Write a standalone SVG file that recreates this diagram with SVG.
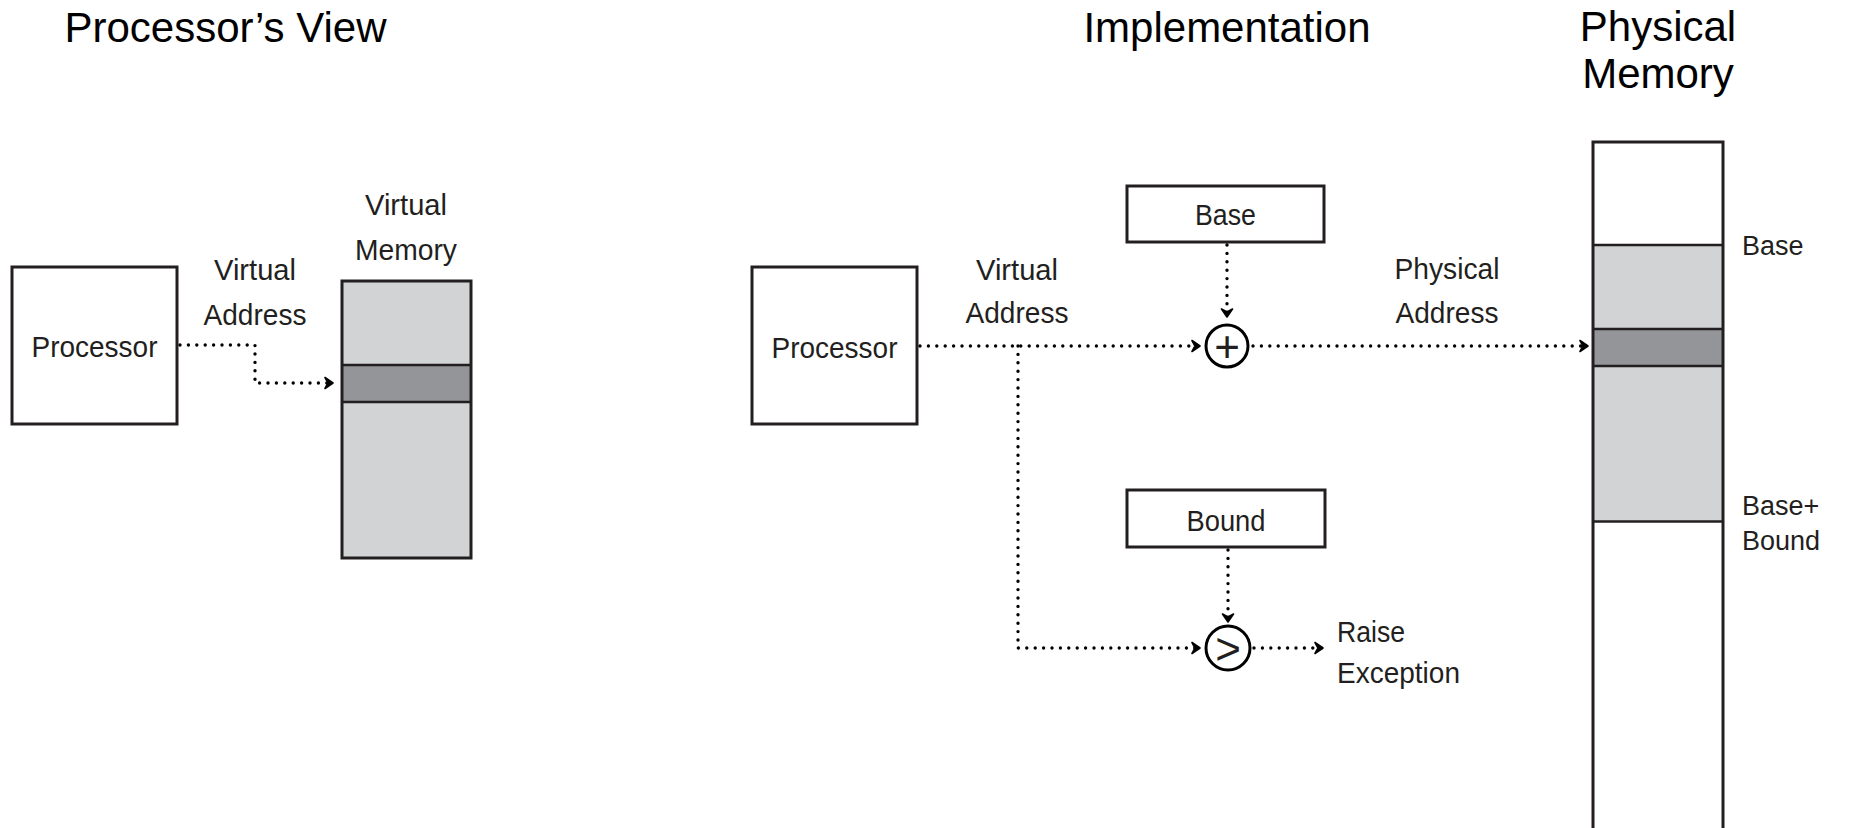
<svg xmlns="http://www.w3.org/2000/svg" width="1849" height="828" viewBox="0 0 1849 828">
<style>
.title{font-family:"Liberation Sans",Arial,sans-serif;font-size:42px;fill:#000;text-anchor:middle}
.lbl{font-family:"Liberation Sans",Arial,sans-serif;font-size:30px;fill:#231f20;text-anchor:middle}
.rl{font-family:"Liberation Sans",Arial,sans-serif;font-size:27px;fill:#231f20}
.sym{font-family:"Liberation Sans",Arial,sans-serif;font-size:44px;fill:#231f20;text-anchor:middle}
.box{fill:#fff;stroke:#231f20;stroke-width:3}
.mem{stroke:#231f20;stroke-width:2.5}
.light{fill:#d1d3d4}
.dark{fill:#939598}
.dot{fill:none;stroke:#000;stroke-width:3.4;stroke-linecap:round;stroke-dasharray:0 8.4}
.circ{fill:#fff;stroke:#000;stroke-width:3}
</style>
<defs>
<marker id="arr" markerUnits="userSpaceOnUse" markerWidth="13" markerHeight="14" viewBox="-11 -7 13 14" refX="0" refY="0" orient="auto">
<path d="M-8,-5.5 L0,0 L-8,5.5 L-5,0 Z" fill="#000" stroke="#000" stroke-width="1.6" stroke-linejoin="round"/>
</marker>
</defs>
<rect width="1849" height="828" fill="#fff"/>

<g id="titles">
<text class="title" x="225.5" y="42">Processor’s View</text>
<text class="title" x="1227" y="42">Implementation</text>
<text class="title" x="1658" y="41">Physical</text>
<text class="title" x="1658" y="88">Memory</text>
</g>

<g id="processor1">
<rect class="box" x="12" y="267" width="165" height="157"/>
<text class="lbl" x="94.5" y="357" textLength="126" lengthAdjust="spacingAndGlyphs">Processor</text>
</g>

<g id="virtual-memory">
<rect class="light" x="342" y="281" width="129" height="277"/>
<rect class="dark" x="342" y="365" width="129" height="37"/>
<line class="mem" x1="342" y1="365" x2="471" y2="365"/>
<line class="mem" x1="342" y1="402" x2="471" y2="402"/>
<rect x="342" y="281" width="129" height="277" fill="none" stroke="#231f20" stroke-width="3"/>
<text class="lbl" x="406" y="215" textLength="82" lengthAdjust="spacingAndGlyphs">Virtual</text>
<text class="lbl" x="406" y="260" textLength="102" lengthAdjust="spacingAndGlyphs">Memory</text>
</g>

<g id="processor2">
<rect class="box" x="752" y="267" width="165" height="157"/>
<text class="lbl" x="834.5" y="358" textLength="126" lengthAdjust="spacingAndGlyphs">Processor</text>
</g>

<g id="base-reg">
<rect class="box" x="1127" y="186" width="197" height="56"/>
<text class="lbl" x="1225.5" y="225" textLength="61" lengthAdjust="spacingAndGlyphs">Base</text>
</g>

<g id="bound-reg">
<rect class="box" x="1127" y="490" width="198" height="57"/>
<text class="lbl" x="1226" y="531" textLength="79" lengthAdjust="spacingAndGlyphs">Bound</text>
</g>

<g id="adder">
<circle class="circ" cx="1227" cy="346" r="21"/>
<text class="sym" x="1227" y="361.5">+</text>
</g>

<g id="comparator">
<circle class="circ" cx="1228" cy="648" r="22"/>
<text class="sym" x="1228" y="663.5">&gt;</text>
</g>

<g id="physical-memory">
<rect x="1593" y="142" width="130" height="700" fill="#fff"/>
<rect class="light" x="1593" y="245" width="130" height="276.5"/>
<rect class="dark" x="1593" y="329" width="130" height="37"/>
<line class="mem" x1="1593" y1="245" x2="1723" y2="245"/>
<line class="mem" x1="1593" y1="329" x2="1723" y2="329"/>
<line class="mem" x1="1593" y1="366" x2="1723" y2="366"/>
<line class="mem" x1="1593" y1="521.5" x2="1723" y2="521.5"/>
<rect x="1593" y="142" width="130" height="700" fill="none" stroke="#231f20" stroke-width="3"/>
<text class="rl" x="1742" y="255">Base</text>
<text class="rl" x="1742" y="515">Base+</text>
<text class="rl" x="1742" y="550">Bound</text>
</g>

<g id="labels">
<text class="lbl" x="255" y="280" textLength="82" lengthAdjust="spacingAndGlyphs">Virtual</text>
<text class="lbl" x="255" y="325" textLength="103" lengthAdjust="spacingAndGlyphs">Address</text>
<text class="lbl" x="1017" y="280" textLength="82" lengthAdjust="spacingAndGlyphs">Virtual</text>
<text class="lbl" x="1017" y="323" textLength="103" lengthAdjust="spacingAndGlyphs">Address</text>
<text class="lbl" x="1447" y="279" textLength="105" lengthAdjust="spacingAndGlyphs">Physical</text>
<text class="lbl" x="1447" y="323" textLength="103" lengthAdjust="spacingAndGlyphs">Address</text>
<text class="lbl" x="1337" y="642" style="text-anchor:start" textLength="68" lengthAdjust="spacingAndGlyphs">Raise</text>
<text class="lbl" x="1337" y="683" style="text-anchor:start" textLength="123" lengthAdjust="spacingAndGlyphs">Exception</text>
</g>

<g id="connectors">
<path class="dot" d="M180,345 H255 V383 H333" marker-end="url(#arr)"/>
<path class="dot" d="M920,346 H1200" marker-end="url(#arr)"/>
<path class="dot" d="M1018,346 V648 H1200" marker-end="url(#arr)"/>
<path class="dot" d="M1227,245 V317" marker-end="url(#arr)"/>
<path class="dot" d="M1228,550 V622" marker-end="url(#arr)"/>
<path class="dot" d="M1253,346 H1588" marker-end="url(#arr)"/>
<path class="dot" d="M1254,648 H1323" marker-end="url(#arr)"/>
</g>
</svg>
